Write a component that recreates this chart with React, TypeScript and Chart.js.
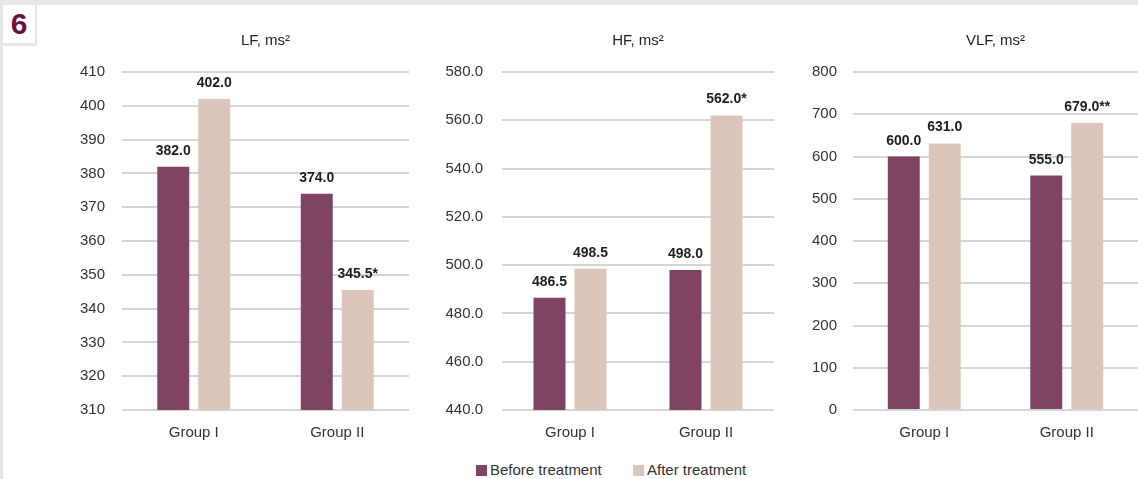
import React, { useEffect, useRef } from "react";
import { Chart, registerables } from "chart.js";

Chart.register(...registerables);

// ---- data ----
const groups = ["Group I", "Group II"];
const seriesNames = ["Before treatment", "After treatment"];

const lfTitle = "LF, ms²";
const lfBefore = [382.0, 374.0];
const lfAfter = [402.0, 345.5];
const lfBeforeMarks = ["", ""];
const lfAfterMarks = ["", "*"];
const lfTicks = [310, 320, 330, 340, 350, 360, 370, 380, 390, 400, 410];

const hfTitle = "HF, ms²";
const hfBefore = [486.5, 498.0];
const hfAfter = [498.5, 562.0];
const hfBeforeMarks = ["", ""];
const hfAfterMarks = ["", "*"];
const hfTicks = [440, 460, 480, 500, 520, 540, 560, 580];

const vlfTitle = "VLF, ms²";
const vlfBefore = [600.0, 555.0];
const vlfAfter = [631.0, 679.0];
const vlfBeforeMarks = ["", ""];
const vlfAfterMarks = ["", "**"];
const vlfTicks = [0, 100, 200, 300, 400, 500, 600, 700, 800];

// ---- styles ----
const FONT = "'Liberation Sans', Arial, Helvetica, sans-serif";
const BEFORE_COLOR = "#7e4461";
const AFTER_COLOR = "#dcc5bb";
const TEXT_COLOR = "#333333";
const GRID_COLOR = "#d5d5d5";
const CANVAS_TOP = 20;
const CANVAS_H = 430;

type PanelProps = {
  title: string;
  before: number[];
  after: number[];
  beforeMarks: string[];
  afterMarks: string[];
  ticks: number[];
  decimals: number;
  left: number;
  width: number;
  axisWidth: number;
  padRight: number;
  tickPad: number;
  catPct: number;
};

const labelPlugin = {
  id: "valueLabels",
  afterDatasetsDraw(chart: any) {
    const ctx = chart.ctx;
    const marks = chart.options.plugins.valueLabels?.marks || [];
    ctx.save();
    ctx.font = `bold 14px ${FONT}`;
    ctx.fillStyle = "#1e1e1e";
    ctx.textAlign = "center";
    ctx.textBaseline = "alphabetic";
    chart.data.datasets.forEach((ds: any, di: number) => {
      const meta = chart.getDatasetMeta(di);
      meta.data.forEach((bar: any, i: number) => {
        const v = ds.data[i];
        const txt = Number(v).toFixed(1) + ((marks[di] && marks[di][i]) || "");
        ctx.fillText(txt, bar.x, bar.y - 12);
      });
    });
    ctx.restore();
  },
};

const titlePlugin = {
  id: "panelTitle",
  afterDraw(chart: any) {
    const t = chart.options.plugins.panelTitle?.text;
    if (!t) return;
    const ctx = chart.ctx;
    const a = chart.chartArea;
    ctx.save();
    ctx.font = `15px ${FONT}`;
    ctx.fillStyle = "#222";
    ctx.textAlign = "center";
    ctx.textBaseline = "middle";
    ctx.fillText(t, (a.left + a.right) / 2, a.top - 31);
    ctx.restore();
  },
};

function Panel(p: PanelProps) {
  const ref = useRef<HTMLCanvasElement | null>(null);
  useEffect(() => {
    if (!ref.current) return;
    const chart = new Chart(ref.current, {
      type: "bar",
      data: {
        labels: groups,
        datasets: [
          {
            label: seriesNames[0],
            data: p.before,
            backgroundColor: BEFORE_COLOR,
            categoryPercentage: p.catPct,
            barPercentage: 0.78,
          },
          {
            label: seriesNames[1],
            data: p.after,
            backgroundColor: AFTER_COLOR,
            categoryPercentage: p.catPct,
            barPercentage: 0.78,
          },
        ],
      },
      options: {
        animation: false,
        responsive: false,
        maintainAspectRatio: false,
        layout: { padding: { top: 52, right: p.padRight, bottom: 0, left: 0 } },
        plugins: {
          legend: { display: false },
          tooltip: { enabled: false },
          title: { display: false },
          // @ts-ignore
          valueLabels: { marks: [p.beforeMarks, p.afterMarks] },
          // @ts-ignore
          panelTitle: { text: p.title },
        },
        scales: {
          x: {
            grid: { display: false, drawTicks: false },
            border: { display: false },
            ticks: {
              color: TEXT_COLOR,
              font: { family: FONT, size: 15 },
              padding: 14,
            },
            afterFit: (s: any) => {
              s.height = 40;
            },
          },
          y: {
            min: p.ticks[0],
            max: p.ticks[p.ticks.length - 1],
            afterBuildTicks: (s: any) => {
              s.ticks = p.ticks.map((v) => ({ value: v }));
            },
            grid: { color: GRID_COLOR, lineWidth: 2, drawTicks: false },
            border: { display: false },
            ticks: {
              color: TEXT_COLOR,
              font: { family: FONT, size: 15 },
              padding: p.tickPad,
              callback: (v: any) => Number(v).toFixed(p.decimals),
            },
            afterFit: (s: any) => {
              s.width = p.axisWidth;
            },
          },
        },
      },
      plugins: [labelPlugin, titlePlugin],
    });
    return () => chart.destroy();
  }, []);
  return (
    <canvas
      ref={ref}
      width={p.width}
      height={CANVAS_H}
      style={{ position: "absolute", left: p.left, top: CANVAS_TOP, width: p.width, height: CANVAS_H }}
    />
  );
}

export default function App() {
  return (
    <div
      style={{
        position: "fixed",
        left: 0,
        top: 0,
        width: 1138,
        height: 479,
        background: "#ffffff",
        overflow: "hidden",
        fontFamily: FONT,
      }}
    >
      <div style={{ position: "absolute", left: 0, top: 0, width: 1138, height: 5, background: "#e5e6e8" }} />
      <div style={{ position: "absolute", left: 0, top: 0, width: 3, height: 479, background: "#e5e6e8" }} />
      <div style={{ position: "absolute", left: 0, top: 43, width: 37, height: 3, background: "#e5e6e8" }} />
      <div style={{ position: "absolute", left: 35, top: 0, width: 2, height: 46, background: "#e5e6e8" }} />

      <Panel
        title={lfTitle}
        before={lfBefore}
        after={lfAfter}
        beforeMarks={lfBeforeMarks}
        afterMarks={lfAfterMarks}
        ticks={lfTicks}
        decimals={0}
        left={40}
        width={380}
        axisWidth={82}
        padRight={11}
        tickPad={17}
        catPct={0.571}
      />
      <Panel
        title={hfTitle}
        before={hfBefore}
        after={hfAfter}
        beforeMarks={hfBeforeMarks}
        afterMarks={hfAfterMarks}
        ticks={hfTicks}
        decimals={1}
        left={415}
        width={370}
        axisWidth={87}
        padRight={11}
        tickPad={19}
        catPct={0.603}
      />
      <Panel
        title={vlfTitle}
        before={vlfBefore}
        after={vlfAfter}
        beforeMarks={vlfBeforeMarks}
        afterMarks={vlfAfterMarks}
        ticks={vlfTicks}
        decimals={0}
        left={785}
        width={353}
        axisWidth={68}
        padRight={0}
        tickPad={16}
        catPct={0.575}
      />

      <div
        style={{
          position: "absolute",
          left: 3,
          top: 5,
          width: 32,
          height: 38,
          color: "#6b1046",
          fontWeight: "bold",
          fontSize: 30,
          lineHeight: "38px",
          textAlign: "center",
          background: "#ffffff",
        }}
      >
        6
      </div>

      <div style={{ position: "absolute", left: 476, top: 465, width: 11, height: 11, background: BEFORE_COLOR }} />
      <div
        style={{
          position: "absolute",
          left: 490,
          top: 460,
          fontSize: 15,
          lineHeight: "20px",
          color: TEXT_COLOR,
          whiteSpace: "nowrap",
        }}
      >
        {seriesNames[0]}
      </div>
      <div style={{ position: "absolute", left: 633, top: 465, width: 11, height: 11, background: AFTER_COLOR }} />
      <div
        style={{
          position: "absolute",
          left: 647,
          top: 460,
          fontSize: 15,
          lineHeight: "20px",
          color: TEXT_COLOR,
          whiteSpace: "nowrap",
        }}
      >
        {seriesNames[1]}
      </div>
    </div>
  );
}
